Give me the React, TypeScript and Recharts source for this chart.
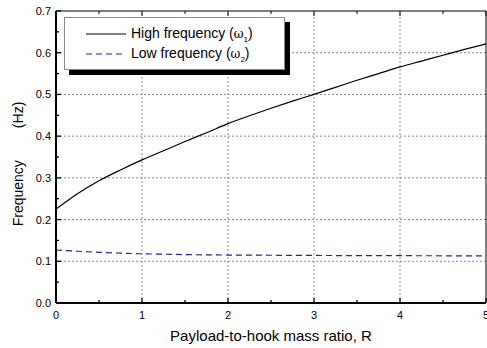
import React from "react";
import { LineChart, Line, XAxis, YAxis, ReferenceLine } from "recharts";

// payload-to-hook mass ratio R
const ratioR = [0, 0.25, 0.5, 0.75, 1, 1.25, 1.5, 1.75, 2, 2.25, 2.5, 2.75, 3, 3.25, 3.5, 3.75, 4, 4.25, 4.5, 4.75, 5];
// high frequency mode (omega 1), Hz
const highFreq = [
  0.225, 0.262, 0.293, 0.319, 0.343, 0.365, 0.387, 0.408, 0.43, 0.449, 0.467, 0.484, 0.5, 0.517, 0.534, 0.55, 0.566,
  0.58, 0.594, 0.608, 0.621,
];
// low frequency mode (omega 2), Hz
const lowFreq = [
  0.127, 0.124, 0.1215, 0.1195, 0.118, 0.117, 0.116, 0.1155, 0.115, 0.1148, 0.1145, 0.1142, 0.114, 0.1138, 0.1137,
  0.1135, 0.1134, 0.1133, 0.1132, 0.1131, 0.113,
];

const xTicks = [0, 0.5, 1, 1.5, 2, 2.5, 3, 3.5, 4, 4.5, 5];
const yTicks = [0, 0.05, 0.1, 0.15, 0.2, 0.25, 0.3, 0.35, 0.4, 0.45, 0.5, 0.55, 0.6, 0.65, 0.7];
const xGrid = [1, 2, 3, 4];
const yGrid = [0.1, 0.2, 0.3, 0.4, 0.5, 0.6];

const data = ratioR.map((r, i) => ({ r, high: highFreq[i], low: lowFreq[i] }));

const FONT = '"Liberation Sans", Arial, sans-serif';
const LOW_COLOR = "#23238f";
const isMajorX = (v: number) => Math.abs(v - Math.round(v)) < 1e-6;
const isMajorY = (v: number) => Math.abs(v * 10 - Math.round(v * 10)) < 1e-6;

const BottomTick = (props: any) => {
  const { x, y, payload } = props;
  const major = isMajorX(payload.value);
  return (
    <g>
      <line x1={x} x2={x} y1={y} y2={y - (major ? 5 : 3)} stroke="#000" strokeWidth={1.3} />
      {major && (
        <text x={x} y={y + 16} textAnchor="middle" fontSize={11} fill="#000" fontFamily={FONT}>
          {payload.value}
        </text>
      )}
    </g>
  );
};

const TopTick = (props: any) => {
  const { x, y, payload } = props;
  const major = isMajorX(payload.value);
  return <line x1={x} x2={x} y1={y} y2={y + (major ? 5 : 3)} stroke="#000" strokeWidth={1} />;
};

const LeftTick = (props: any) => {
  const { x, y, payload } = props;
  const major = isMajorY(payload.value);
  return (
    <g>
      <line x1={x} x2={x + (major ? 5 : 3)} y1={y} y2={y} stroke="#000" strokeWidth={1.3} />
      {major && (
        <text x={x - 5} y={y + 4} textAnchor="end" fontSize={11} fill="#000" fontFamily={FONT}>
          {payload.value.toFixed(1)}
        </text>
      )}
    </g>
  );
};

const RightTick = (props: any) => {
  const { x, y, payload } = props;
  const major = isMajorY(payload.value);
  return <line x1={x} x2={x - (major ? 5 : 3)} y1={y} y2={y} stroke="#000" strokeWidth={1} />;
};

const Omega = ({ sub }: { sub: string }) => (
  <span>
    <span style={{ fontFamily: '"DejaVu Serif", serif', fontSize: 12 }}>ω</span>
    <sub style={{ fontSize: 8 }}>{sub}</sub>
  </span>
);

export default function App() {
  return (
    <div style={{ position: "absolute", left: 0, top: 0, width: 487, height: 348, fontFamily: FONT, background: "#fff" }}>
      <LineChart width={487} height={348} data={data} margin={{ top: 0, right: 0, left: 0, bottom: 0 }}>
        <XAxis
          dataKey="r"
          type="number"
          domain={[0, 5]}
          ticks={xTicks}
          interval={0}
          height={45}
          tickSize={0}
          tickMargin={0}
          tick={<BottomTick />}
          axisLine={{ stroke: "#000", strokeWidth: 2 }}
          tickLine={false}
        />
        <XAxis
          xAxisId="top"
          dataKey="r"
          orientation="top"
          type="number"
          domain={[0, 5]}
          ticks={xTicks}
          interval={0}
          height={11}
          tickSize={0}
          tickMargin={0}
          tick={<TopTick />}
          axisLine={{ stroke: "#000", strokeWidth: 1 }}
          tickLine={false}
        />
        <YAxis
          type="number"
          domain={[0, 0.7]}
          ticks={yTicks}
          interval={0}
          width={56}
          tickSize={0}
          tickMargin={0}
          tick={<LeftTick />}
          axisLine={{ stroke: "#000", strokeWidth: 2 }}
          tickLine={false}
        />
        <YAxis
          yAxisId="right"
          orientation="right"
          type="number"
          domain={[0, 0.7]}
          ticks={yTicks}
          interval={0}
          width={1}
          tickSize={0}
          tickMargin={0}
          tick={<RightTick />}
          axisLine={{ stroke: "#000", strokeWidth: 1 }}
          tickLine={false}
        />
        {xGrid.map((v) => (
          <ReferenceLine key={"gx" + v} x={v} stroke="#8c8c8c" strokeDasharray="2 2" />
        ))}
        {yGrid.map((v) => (
          <ReferenceLine key={"gy" + v} y={v} stroke="#8c8c8c" strokeDasharray="2 2" />
        ))}
        <Line type="monotone" dataKey="high" stroke="#000" strokeWidth={1.2} dot={false} isAnimationActive={false} />
        <Line
          type="monotone"
          dataKey="low"
          stroke={LOW_COLOR}
          strokeWidth={1.2}
          strokeDasharray="6 4"
          dot={false}
          isAnimationActive={false}
        />
      </LineChart>

      <div
        style={{
          position: "absolute",
          left: 18,
          top: 164,
          transform: "translate(-50%, -50%) rotate(-90deg)",
          fontSize: 14,
          whiteSpace: "pre",
          display: "flex",
        }}
      >
        <span>Frequency</span>
        <span style={{ marginLeft: 32 }}>(Hz)</span>
      </div>
      <div style={{ position: "absolute", left: 56, width: 430, top: 327, textAlign: "center", fontSize: 15 }}>
        Payload-to-hook mass ratio, R
      </div>

      <div
        style={{
          position: "absolute",
          left: 64,
          top: 17,
          width: 219,
          height: 51,
          border: "1px solid #888",
          background: "#fff",
          boxShadow: "5px 5px 0 #000",
          fontSize: 14,
        }}
      >
        {[
          { name: "High frequency (", sub: "1", dash: undefined, color: "#000" },
          { name: "Low frequency (", sub: "2", dash: "6 4", color: LOW_COLOR },
        ].map((item, i) => (
          <div key={i} style={{ position: "absolute", left: 21, top: 7 + i * 20, height: 18, display: "flex", alignItems: "center" }}>
            <svg width={40} height={4} style={{ marginRight: 5 }}>
              <line x1={0} x2={40} y1={2} y2={2} stroke={item.color} strokeWidth={1.2} strokeDasharray={item.dash} />
            </svg>
            <span style={{ whiteSpace: "pre" }}>
              {item.name}
              <Omega sub={item.sub} />)
            </span>
          </div>
        ))}
      </div>
    </div>
  );
}
